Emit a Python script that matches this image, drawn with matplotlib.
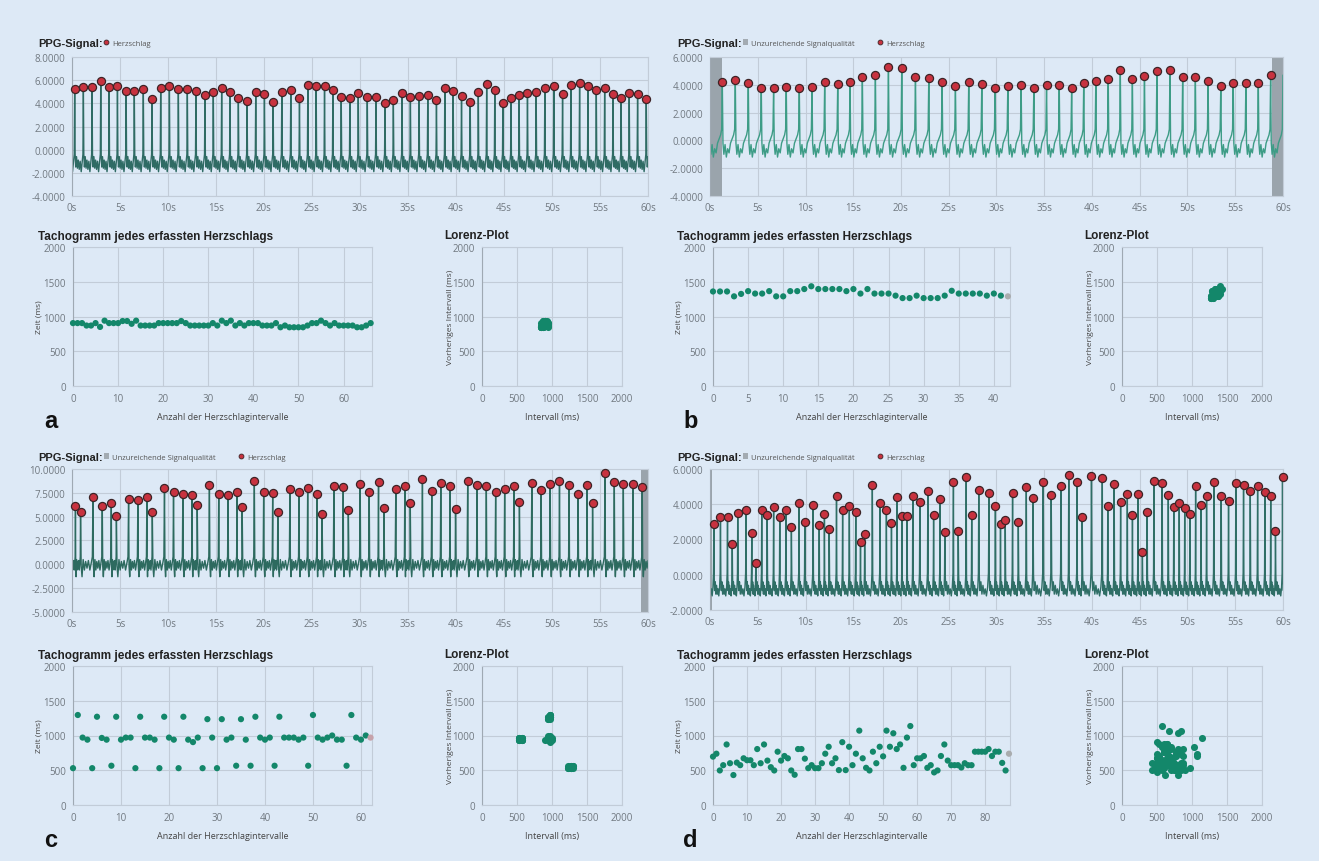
import matplotlib.pyplot as plt
import numpy as np
from matplotlib.lines import Line2D
from matplotlib.patches import Patch

W, H = 1319, 862
BG = '#dde9f6'
GRID = '#c2ccd8'
TICK = '#707880'
RED = '#c8323f'
GREEN = '#13876a'
SHADE = '#9aa4ac'

plt.rcParams['font.family'] = ['Open Sans', 'DejaVu Sans']

# ---- data ----
# first detected beat (s), RR intervals (ms), peak amplitude per beat
t0_a = 0.28
rr_a = [905, 905, 905, 870, 870, 905, 850, 940, 905, 905,
        905, 935, 935, 895, 940, 870, 870, 870, 870, 905,
        905, 905, 905, 905, 935, 905, 870, 870, 870, 870,
        870, 905, 870, 940, 905, 940, 870, 905, 870, 905,
        905, 905, 870, 870, 870, 905, 845, 870, 845, 845,
        845, 845, 870, 905, 905, 940, 905, 870, 905, 870,
        870, 870, 870, 845, 845, 870, 905]
peaks_a = [5.28, 5.43, 5.37, 5.9, 5.4, 5.49, 5.05, 5.05, 5.26, 4.35,
           5.31, 5.49, 5.2, 5.23, 5.08, 4.73, 5.02, 5.34, 4.99, 4.44,
           4.18, 4.99, 4.79, 4.12, 4.96, 5.11, 4.44, 5.58, 5.49, 5.46,
           5.11, 4.55, 4.47, 4.9, 4.53, 4.58, 4.03, 4.29, 4.88, 4.53,
           4.64, 4.73, 4.32, 5.31, 5.08, 4.64, 4.12, 4.99, 5.66, 5.17,
           4.0, 4.44, 4.7, 4.93, 5.02, 5.34, 5.49, 4.79, 5.55, 5.78,
           5.49, 5.17, 5.31, 4.82, 4.47, 4.85, 4.79, 4.35]

t0_b = 1.29
rr_b = [1360, 1360, 1360, 1290, 1325, 1365, 1330, 1330, 1365, 1290,
        1290, 1365, 1365, 1395, 1435, 1395, 1395, 1395, 1395, 1365,
        1395, 1330, 1395, 1330, 1330, 1330, 1300, 1265, 1265, 1300,
        1265, 1265, 1265, 1300, 1370, 1330, 1330, 1330, 1330, 1300,
        1330, 1300, 1290]
peaks_b = [4.21, 4.33, 4.13, 3.80, 3.80, 3.85, 3.78, 3.82, 4.18, 4.04,
           4.21, 4.56, 4.73, 5.26, 5.23, 4.54, 4.47, 4.23, 3.94, 4.23,
           4.04, 3.78, 3.92, 3.97, 3.78, 4.0, 4.01, 3.80, 4.13, 4.28,
           4.42, 5.07, 4.42, 4.64, 4.97, 5.07, 4.59, 4.56, 4.28, 3.89,
           4.16, 4.13, 4.16, 4.68]

t0_c = 0.36
rr_c = [530, 1295, 970, 940, 530, 1270, 965, 940, 565, 1270,
        940, 970, 970, 530, 1270, 970, 970, 940, 530, 1270,
        970, 940, 530, 1270, 940, 905, 970, 530, 1235, 970,
        530, 1235, 940, 970, 565, 1235, 940, 565, 1270, 970,
        940, 970, 565, 1270, 970, 970, 970, 940, 970, 565,
        1295, 970, 940, 970, 1000, 940, 940, 565, 1295, 970,
        940, 1000, 970]
peaks_c = [6.09, 5.47, 7.04, 6.09, 6.39, 5.11, 6.82, 6.79, 7.04, 5.47,
           7.96, 7.55, 7.37, 7.30, 6.2, 8.36, 7.41, 7.23, 7.63, 5.99,
           8.69, 7.63, 7.52, 5.47, 7.85, 7.63, 8.03, 7.41, 5.26, 8.25,
           8.07, 5.73, 8.39, 7.59, 8.61, 5.95, 7.85, 8.25, 6.42, 8.98,
           7.66, 8.58, 8.25, 5.77, 8.76, 8.28, 8.18, 7.63, 7.85, 8.18,
           6.57, 8.50, 7.81, 8.39, 8.69, 8.32, 7.37, 8.32, 6.39, 9.6,
           8.61, 8.47, 8.47, 8.10]

t0_d = 0.40
rr_d = [696, 738, 497, 573, 871, 601, 431, 610, 573, 672,
        644, 644, 573, 805, 601, 871, 639, 544, 497, 767,
        639, 705, 672, 497, 435, 805, 805, 667, 530, 573,
        530, 530, 601, 738, 838, 601, 672, 502, 904, 502,
        838, 573, 738, 1070, 672, 535, 497, 767, 601, 838,
        700, 1070, 838, 1032, 805, 871, 535, 970, 1136, 573,
        672, 672, 705, 535, 573, 469, 497, 705, 871, 639,
        573, 573, 573, 540, 601, 573, 573, 767, 767, 767,
        767, 805, 705, 767, 767, 606, 497, 738]
peaks_d = [2.88, 3.25, 3.25, 1.77, 3.52, 3.67, 2.35, 0.69, 3.69, 3.38,
           3.85, 3.29, 3.69, 2.69, 4.08, 3.0, 3.96, 2.81, 3.44, 2.62,
           4.46, 3.69, 3.88, 3.54, 1.87, 2.31, 5.12, 4.08, 3.67, 2.96,
           4.42, 3.33, 3.33, 4.46, 4.1, 4.75, 3.37, 4.29, 2.44, 5.29,
           2.5, 5.52, 3.40, 4.79, 4.63, 3.92, 2.87, 3.08, 4.65, 3.02,
           5.0, 4.33, 5.29, 4.5, 5.04, 5.67, 5.29, 3.29, 5.62, 5.5,
           3.92, 5.13, 4.13, 4.6, 3.4, 4.6, 1.29, 3.58, 5.33, 5.21,
           4.54, 3.83, 4.08, 3.79, 3.42, 5.02, 3.98, 4.46, 5.25, 4.46,
           4.19, 5.21, 5.1, 4.75, 5.02, 4.69, 4.46, 2.48, 5.56]

# shape of one pulse between two beats: fraction of the interval -> level
pulse_phase = [0.05, 0.12, 0.21, 0.31, 0.41, 0.52, 0.63, 0.75, 0.87, 0.95]
pulse_a = [-0.4, -1.5, -0.6, -1.6, -0.9, -1.7, -1.0, -1.9, -1.0, -0.4]
pulse_b = [-0.2, -1.0, -0.3, -1.2, -0.6, -0.9, -0.2, 0.1, 0.4, 0.8]
pulse_c = [-0.2, -1.3, 0.5, -0.6, 0.3, -0.4, 0.4, -0.6, 0.2, 0.8]
pulse_d = [0.0, -0.9, -0.4, -1.1, -0.6, -1.1, -0.8, -1.2, -0.7, 0.1]

# spans flagged as insufficient signal quality (s)
bad_a = []
bad_b = [(0, 1.3), (58.9, 60)]
bad_c = [(0, 0.15), (59.3, 60)]
bad_d = [(0, 0.25)]


def fx(px):
    return px / W


def fy(py):
    return 1 - py / H


def add_ax(l, t, r, b):
    ax = fig.add_axes([l / W, 1 - b / H, (r - l) / W, (b - t) / H])
    ax.set_facecolor(BG)
    for s in ax.spines.values():
        s.set_color(GRID)
        s.set_linewidth(0.8)
    ax.spines['left'].set_color('#9fa9b3')
    ax.grid(True, color=GRID, lw=0.8)
    ax.set_axisbelow(True)
    ax.tick_params(length=0, labelsize=7, labelcolor=TICK, pad=5)
    return ax


def ppg_trace(t0, rr, peaks, levels):
    beats = t0 + np.concatenate([[0], np.cumsum(rr)]) / 1000
    bt = np.concatenate([[beats[0] - rr[0] / 1000], beats, [beats[-1] + rr[-1] / 1000]])
    pk = np.concatenate([[peaks[0]], peaks, [peaks[-1]]])
    ts, vs = [], []
    for k in range(len(bt) - 1):
        dur = bt[k + 1] - bt[k]
        ts.append(bt[k])
        vs.append(pk[k])
        for ph, lv in zip(pulse_phase, levels):
            ts.append(bt[k] + ph * dur)
            vs.append(lv)
    ts.append(bt[-1])
    vs.append(pk[-1])
    return beats, np.array(ts), np.array(vs)


def panel(letter, t0, rr, peaks, levels, bad, ylim, ystep, line_col,
          tstep, last_col, ox, oy, top_box, tacho_box, lor_box):
    # PPG signal
    ax = add_ax(*top_box)
    beats, ts, vs = ppg_trace(t0, rr, peaks, levels)
    for a0, a1 in bad:
        ax.axvspan(a0, a1, color=SHADE, lw=0, zorder=1)
    ax.plot(ts, vs, color=line_col, lw=1.0, zorder=2)
    ax.scatter(beats, peaks, s=34, color=RED, edgecolor='#3d2426', lw=0.9,
               zorder=3, clip_on=False)
    ax.set_xlim(0, 60)
    ax.set_ylim(*ylim)
    ax.set_xticks(np.arange(0, 61, 5))
    ax.set_xticklabels([f'{v}s' for v in range(0, 61, 5)])
    ax.set_yticks(np.arange(ylim[0], ylim[1] + 0.01, ystep))
    ax.yaxis.set_major_formatter(lambda v, p: f'{v:.4f}')
    ax.tick_params(axis='x', pad=4)

    fig.text(fx(ox), fy(oy), 'PPG-Signal:', family='Liberation Sans',
             weight='bold', fontsize=8, va='center', color='#222222')
    handles, labels = [], []
    if bad:
        handles.append(Patch(facecolor='#a3abb2', edgecolor='none'))
        labels.append('Unzureichende Signalqualität')
    handles.append(Line2D([], [], ls='', marker='o', ms=3.5, mfc=RED, mec='#3d2426', mew=0.6))
    labels.append('Herzschlag')
    fig.legend(handles, labels, loc='center left', bbox_to_anchor=(fx(ox + 62), fy(oy)),
               frameon=False, ncol=2, fontsize=5.5, handlelength=0.7, handleheight=0.7,
               handletextpad=0.4, columnspacing=3.0, borderpad=0, labelcolor='#555555')

    # tachogram
    tx = add_ax(*tacho_box)
    idx = np.arange(len(rr))
    cols = [GREEN] * len(rr)
    if last_col:
        cols[-1] = last_col
    tx.scatter(idx, rr, s=20, c=cols, lw=0, zorder=3, clip_on=False)
    tx.set_xlim(0, len(rr) - 1 + 0.3)
    tx.set_ylim(0, 2000)
    tx.set_yticks([0, 500, 1000, 1500, 2000])
    tx.set_xticks(np.arange(0, len(rr), tstep))
    tx.set_xlabel('Anzahl der Herzschlagintervalle', fontsize=6.5, color='#444444', labelpad=6)
    tx.set_ylabel('Zeit (ms)', fontsize=6, color='#444444', labelpad=1)
    fig.text(fx(ox), fy(tacho_box[1] - 11), 'Tachogramm jedes erfassten Herzschlags',
             family='Liberation Sans', weight='bold', fontsize=8.5, va='center',
             color='#222222')

    # Lorenz plot
    lx = add_ax(*lor_box)
    lx.scatter(rr[1:], rr[:-1], s=26, color=GREEN, lw=0, zorder=3)
    lx.set_xlim(0, 2000)
    lx.set_ylim(0, 2000)
    lx.set_xticks([0, 500, 1000, 1500, 2000])
    lx.set_yticks([0, 500, 1000, 1500, 2000])
    lx.set_xlabel('Intervall (ms)', fontsize=6.5, color='#444444', labelpad=6)
    lx.set_ylabel('Vorheriges Intervall (ms)', fontsize=6, color='#444444', labelpad=-1)
    fig.text(fx(lor_box[0] - 38), fy(lor_box[1] - 12), 'Lorenz-Plot',
             family='Liberation Sans', weight='bold', fontsize=8.5, va='center',
             color='#222222')

    fig.text(fx(ox + 6), fy(tacho_box[3] + 35), letter, family='Liberation Sans',
             weight='bold', fontsize=17, va='center', color='#111111')


fig = plt.figure(figsize=(W / 100, H / 100), dpi=100, facecolor=BG)

panel('a', t0_a, rr_a, peaks_a, pulse_a, bad_a, (-4, 8), 2, '#2f6b64', 10, None,
      38, 44, (72, 58, 648, 197), (73, 248, 372, 387), (482, 248, 622, 387))
panel('b', t0_b, rr_b, peaks_b, pulse_b, bad_b, (-4, 6), 2, '#3d9c86', 5, '#a9acae',
      677, 44, (710, 58, 1283, 197), (713, 248, 1010, 387), (1122, 248, 1262, 387))
panel('c', t0_c, rr_c, peaks_c, pulse_c, bad_c, (-5, 10), 2.5, '#2d6a5f', 10, '#c6a2aa',
      38, 458, (72, 470, 648, 613), (73, 667, 372, 806), (482, 667, 622, 806))
panel('d', t0_d, rr_d, peaks_d, pulse_d, bad_d, (-2, 6), 2, '#2f6e66', 10, '#a9acae',
      677, 458, (710, 470, 1283, 611), (713, 667, 1010, 806), (1122, 667, 1262, 806))

fig.savefig('out.png', dpi=100, facecolor=BG)
